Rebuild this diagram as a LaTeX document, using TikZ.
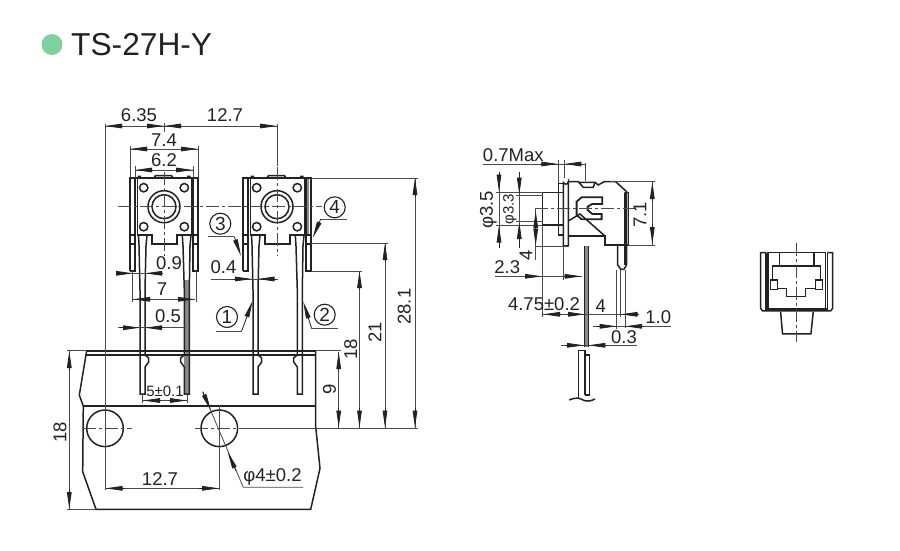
\documentclass[tikz,border=0pt]{standalone}
\usepackage{fontspec}
\setmainfont{Liberation Sans}
\usetikzlibrary{arrows.meta}
\definecolor{ink}{HTML}{222222}
\definecolor{thinline}{HTML}{4a4a4a}
\definecolor{lead}{HTML}{8a8a8a}
\definecolor{bullet}{HTML}{7FCF9F}
\tikzset{
  outl/.style={draw=ink,line width=1.5pt,line join=miter},
  heavy/.style={draw=ink,line width=1.8pt},
  thin/.style={draw=thinline,line width=0.8pt},
  ctr/.style={draw=thinline,line width=0.8pt,dash pattern=on 13pt off 3pt on 3pt off 3pt},
  tip/.style={draw=ink,line width=0.8pt,-{Stealth[length=17pt,width=4.6pt,inset=0pt]}},
  lbl/.style={inner sep=0pt,font=\fontsize{18.5}{18.5}\selectfont,text=ink},
  lblsmall/.style={inner sep=0pt,font=\fontsize{15}{15}\selectfont,text=ink},
  circ/.style={circle,draw=ink,line width=1.1pt,minimum size=21pt,inner sep=0pt,font=\fontsize{19}{19}\selectfont,text=ink},
}
\newcommand{\swtch}[1]{%
\begin{scope}[xshift=#1]
  % straps
  \draw[outl] (130,271) -- (130,178) -- (198,178) -- (198,271) -- (193,271) -- (193,178);
  \draw[outl] (135,178) -- (135,271) -- (130,271);
  \draw[outl] (130,235) -- (135,235) (130,244) -- (135,244) (193,235) -- (198,235) (193,244) -- (198,244);
  % body
  \draw[outl] (137.5,178.5) -- (137.5,235) -- (152,235) -- (152,244) -- (177,244) -- (177,235) -- (192,235) -- (192,178.5);
  \draw[outl] (154,178) -- (155.5,175.5) -- (171.5,175.5) -- (173,178);
  \fill[ink] (137.5,175.5) rectangle (141,178) (187,175.5) rectangle (190.5,178);
  % button and holes
  \draw[outl] (164,206.7) circle (16) (164,206.7) circle (12);
  \draw[outl] (143.7,187.7) circle (4.2) (184.3,187.7) circle (4.2) (143.7,226.7) circle (4.2) (184.3,226.7) circle (4.2);
  % pins
  \draw[outl] (138.5,235) -- (139,245) -- (140,290) -- (140,394) -- (145,394) -- (145,367) -- (148.7,362) -- (148.7,358) -- (145,355) -- (145,290) -- (146,246) -- (147,235);
  \draw[outl] (191,235) -- (190,246) -- (189.3,290) -- (189.3,394) -- (184.3,394) -- (184.3,367) -- (180.7,362) -- (180.7,358) -- (184.3,355) -- (184.3,290) -- (183,246) -- (182.3,235);
\end{scope}}
\begin{document}
\begin{tikzpicture}[x=1pt,y=-1pt]
\useasboundingbox (0,0) rectangle (900,550);
\fill[white] (0,0) rectangle (900,550);
% title
\fill[bullet] (52,44.5) circle (10.5);
\node[inner sep=0pt,anchor=west,font=\fontsize{31.7}{32}\selectfont,text=ink] (title) at (71,44.5) {TS-27H-Y};

% grey fills
\fill[lead] (304.5,178) rectangle (308.5,235);
\fill[lead] (184.3,280) rectangle (189.3,394);
\swtch{0pt}
\swtch{113pt}

% tape
\draw[outl] (86.7,350.7) -- (79.3,395) -- (83.3,406) -- (82.7,471.7) -- (96,509.3) -- (310.7,509.3) -- (320,468.3) -- (315.7,426.7) -- (315.7,350.7);
\draw[heavy] (86.7,350.7) -- (315.7,350.7);
\draw[outl] (85,355) -- (315.7,355);
\draw[heavy] (83.3,406) -- (315.7,406);
\draw[outl] (105,428.3) circle (18.3) (219.3,428.3) circle (18.3);

% centre lines
\draw[ctr] (118,206.7) -- (322,206.7);
\draw[ctr] (164,172) -- (164,256);
\draw[ctr] (277,167) -- (277,256);
\draw[ctr] (82.7,428.3) -- (131.7,428.3);
\draw[ctr] (195,428.3) -- (245,428.3);
\draw[thin] (245,428.3) -- (417.7,428.3);
\draw[thin] (219.3,405) -- (219.3,490);

% top dims
\draw[thin] (105,124) -- (105,490);
\draw[thin] (164,123) -- (164,132);
\draw[thin] (277,124) -- (277,166);
\draw[thin] (105,126) -- (277,126);
\draw[tip] (122,126) -- (105,126);
\draw[tip] (147,126) -- (164,126);
\draw[tip] (181,126) -- (164,126);
\draw[tip] (260,126) -- (277,126);
\node[lbl] (d635) at (139,115) {6.35};
\node[lbl] (d127a) at (225,115.5) {12.7};

\draw[thin] (130,146) -- (130,178) (198,146) -- (198,178);
\draw[thin] (130,149) -- (198,149);
\draw[tip] (147,149) -- (130,149);
\draw[tip] (181,149) -- (198,149);
\node[lbl] (d74) at (164,140.5) {7.4};
\draw[thin] (135,166) -- (135,178) (193,166) -- (193,178);
\draw[thin] (135,170) -- (193,170);
\draw[tip] (152,170) -- (135,170);
\draw[tip] (176,170) -- (193,170);
\node[lbl] (d62) at (164,160.5) {6.2};

% 0.9
\draw[thin] (118,273.3) -- (162,273.3);
\draw[tip] (117,273.3) -- (133,273.3);
\draw[tip] (162,273.3) -- (145,273.3);
\node[lbl] (d09) at (169,263) {0.9};
% 7
\draw[thin] (132.5,271) -- (132.5,302) (196,271) -- (196,302);
\draw[thin] (133,299.3) -- (195,299.3);
\draw[tip] (151,299.3) -- (133,299.3);
\draw[tip] (177,299.3) -- (195,299.3);
\node[lbl] (d7) at (162,289) {7};
% 0.5
\draw[thin] (118,327.7) -- (186,327.7);
\draw[tip] (120,327.7) -- (140,327.7);
\draw[tip] (163,327.7) -- (145,327.7);
\node[lbl] (d05) at (168,316) {0.5};
% 0.4
\draw[thin] (211,279) -- (278,279);
\draw[tip] (233,279) -- (252,279);
\draw[tip] (276,279) -- (257.5,279);
\node[lbl] (d04) at (223.5,267.5) {0.4};

% balloons
\node[circ] (c3) at (220.3,223.7) {3};
\node[circ] (c4) at (334.7,207.3) {4};
\node[circ] (c1) at (227,317) {1};
\node[circ] (c2) at (324.7,314.7) {2};
\coordinate (l3a) at (208.3,236.7); \coordinate (l3b) at (234.3,236.7); \coordinate (l3c) at (241,256);
\draw[thin] (l3a) -- (l3b); \draw[tip] (l3b) -- (l3c);
\coordinate (l4a) at (346.7,219); \coordinate (l4b) at (320.7,219); \coordinate (l4c) at (312.7,238);
\draw[thin] (l4a) -- (l4b); \draw[tip] (l4b) -- (l4c);
\coordinate (l1a) at (215.7,331); \coordinate (l1b) at (241.7,331); \coordinate (l1c) at (252.7,300.7);
\draw[thin] (l1a) -- (l1b); \draw[tip] (l1b) -- (l1c);
\coordinate (l2a) at (338.3,328.7); \coordinate (l2b) at (311.7,328.7); \coordinate (l2c) at (303.3,301.7);
\draw[thin] (l2a) -- (l2b); \draw[tip] (l2b) -- (l2c);

% 5±0.1
\draw[thin] (142.7,394) -- (142.7,403) (187,394) -- (187,403);
\draw[thin] (143,400.5) -- (187,400.5);
\draw[tip] (161,400.5) -- (143,400.5);
\draw[tip] (169,400.5) -- (187,400.5);
\node[lblsmall] (d5) at (165,391) {5±0.1};

% bottom 12.7
\draw[thin] (105,488.3) -- (219.3,488.3);
\draw[tip] (125,488.3) -- (105.5,488.3);
\draw[tip] (199,488.3) -- (219,488.3);
\node[lbl] (d127b) at (160,479) {12.7};

% phi4
\draw[thin] (202.7,391.7) -- (243.3,487.3) -- (303.3,487.3);
\draw[tip] (202.7,391.7) -- (211,410.5);
\draw[tip] (236,471) -- (227.7,452);
\node[lbl] (dphi) at (272.5,477) {φ4±0.2};

% left 18
\draw[thin] (67.3,350.7) -- (86.7,350.7) (67.3,509.3) -- (96,509.3);
\draw[thin] (69.3,351) -- (69.3,509);
\draw[tip] (69.3,371) -- (69.3,351);
\draw[tip] (69.3,489) -- (69.3,509);
\node[lbl,rotate=90] (d18l) at (60,432) {18};

% right dims
\draw[thin] (315.7,350.7) -- (341,350.7);
\draw[thin] (338.7,352) -- (338.7,428);
\draw[tip] (338.7,371) -- (338.7,352);
\draw[tip] (338.7,408) -- (338.7,427.5);
\node[lbl,rotate=90] (d9) at (329.5,389) {9};
\draw[thin] (311,271) -- (361.7,271);
\draw[thin] (359.5,271) -- (359.5,428);
\draw[tip] (359.5,290) -- (359.5,271);
\draw[tip] (359.5,408) -- (359.5,427.5);
\node[lbl,rotate=90] (d18) at (350.7,349.3) {18};
\draw[thin] (311,243) -- (387.7,243);
\draw[thin] (385,243) -- (385,428);
\draw[tip] (385,262) -- (385,243);
\draw[tip] (385,408) -- (385,427.5);
\node[lbl,rotate=90] (d21) at (375,332.7) {21};
\draw[thin] (311,178) -- (418,178);
\draw[thin] (415,178) -- (415,428);
\draw[tip] (415,197) -- (415,178);
\draw[tip] (415,408) -- (415,427.5);
\node[lbl,rotate=90] (d281) at (404.3,306.7) {28.1};

% ---- side view
\begin{scope}[x=0.3333pt,y=-0.3333pt,shift={(1410,420)}]
  \draw[outl] (218,157) -- (218,255) -- (265,255);
  \draw[outl] (218,157) -- (265,157);
  \draw[outl] (265,130) rectangle (280,157);
  \draw[outl] (265,255) rectangle (280,285);
  \draw[outl] (265,157) -- (265,255);
  \draw[outl] (280,125) -- (280,318) -- (295,318) -- (295,125) arc (0:180:7.5);
  \draw[outl] (295,125) -- (325,125) -- (340,142) -- (370,142) -- (375,127) -- (325,127);
  \draw[outl] (375,127) -- (385,135) -- (403,125) -- (437,125) -- (470,155) -- (470,375) (465,157) -- (465,375);
  \draw[outl] (465,157) -- (476,157) -- (476,315) -- (443,315) -- (405,315) -- (405,288) -- (295,288);
  \draw[outl] (295,243) -- (330,222) -- (405,288);
  \draw[outl] (443,315) -- (443,375) -- (453,388) -- (462,388) -- (470,375);
  \draw[heavy] (335,172) -- (320,185) -- (320,225) -- (335,238) -- (395,238) -- (395,222) -- (367,222) -- (353,210) -- (353,200) -- (367,192) -- (397,192) -- (397,172) -- cycle;
\end{scope}
% lead
\fill[lead] (584.3,246) rectangle (588.3,347);
\draw[outl] (584.3,246) -- (584.3,347) (588.3,246) -- (588.3,347);
\draw[outl] (578.3,398) -- (578.3,350.7) -- (585,350.7) -- (585,395);
\draw[outl] (585,355) -- (589.3,355) -- (589.3,395) -- (585,395);
\draw[outl] (569.3,400) .. controls (576,397) and (580,398) .. (583,400) .. controls (587,402) and (591,401) .. (595,399);
\draw[ctr] (535,208.3) -- (637,208.3);

\node[lbl] (d07) at (513.3,155) {0.7Max};
\draw[thin] (482.7,164) -- (585.7,164);
\draw[tip] (540,164) -- (558.3,164);
\draw[tip] (583,164) -- (564.3,164);
\draw[thin] (558.3,160) -- (558.3,183) (564.3,160) -- (564.3,178) (585.7,163) -- (585.7,181);

\draw[thin] (496,192) -- (543,192) (496,225) -- (543,225);
\draw[thin] (499,172) -- (499,248);
\draw[tip] (499,172) -- (499,191.5);
\draw[tip] (499,248) -- (499,225.5);
\node[lbl,rotate=90] (d35) at (488.3,210) {φ3.5};
\draw[thin] (516,195) -- (543,195) (516,221.7) -- (543,221.7);
\draw[thin] (519.3,172) -- (519.3,248);
\draw[tip] (519.3,172) -- (519.3,194.5);
\draw[tip] (519.3,248) -- (519.3,222);
\node[lblsmall,rotate=90] (d33) at (510,209) {φ3.3};

\draw[thin] (535,246) -- (568,246);
\draw[thin] (535.7,208.3) -- (535.7,260);
\draw[tip] (535.7,228) -- (535.7,211);
\draw[tip] (535.7,228) -- (535.7,245.5);
\node[lbl,rotate=90] (d4a) at (526,255.7) {4};

\draw[thin] (542.3,226) -- (542.3,316.7);
\draw[thin] (563.3,246) -- (563.3,280);
\draw[thin] (495,276.3) -- (581.7,276.3);
\draw[tip] (525,276.3) -- (542,276.3);
\draw[tip] (563.5,276.3) -- (581.7,276.3);
\node[lbl] (d23) at (507.3,266.7) {2.3};

\draw[thin] (616.7,270) -- (616.7,329) (620.5,270) -- (620.5,316.7) (625,270) -- (625,328);
\draw[thin] (542.3,314.3) -- (639.3,314.3);
\draw[tip] (561,314.3) -- (543,314.3);
\draw[tip] (567,314.3) -- (585,314.3);
\draw[tip] (639,314.3) -- (620.5,314.3);
\node[lbl] (d475) at (544,304.3) {4.75±0.2};
\node[lbl] (d4b) at (600.7,305.7) {4};

\draw[thin] (593.3,326.3) -- (670.7,326.3);
\draw[tip] (597,326.3) -- (616.7,326.3);
\draw[tip] (644,326.3) -- (625,326.3);
\node[lbl] (d10) at (658.3,317.3) {1.0};

\draw[thin] (561,345.3) -- (637.3,345.3);
\draw[tip] (565,345.3) -- (584,345.3);
\draw[tip] (607,345.3) -- (588.3,345.3);
\node[lbl] (d03) at (624,337.3) {0.3};

\draw[thin] (610,181) -- (655,181) (628,245) -- (655,245);
\draw[thin] (652.3,181) -- (652.3,245);
\draw[tip] (652.3,202) -- (652.3,182);
\draw[tip] (652.3,224) -- (652.3,244);
\node[lbl,rotate=90] (d71) at (640,215) {7.1};

% ---- front view
\begin{scope}[x=0.3333pt,y=-0.3333pt,shift={(2250,720)}]
  \draw[outl] (48,38) -- (32,38) -- (32,205) -- (38,213) -- (242,213) -- (248,205) -- (248,38) -- (232,38);
  \draw[outl] (48,38) -- (48,207) -- (232,207) -- (232,38);
  \draw[outl] (54,207) -- (54,38) -- (226,38) -- (226,207);
  \draw[outl] (68,120) -- (68,78) -- (212,78) -- (212,120);
  \draw[outl] (88,38) -- (88,78) (192,38) -- (192,78);
  \draw[outl] (62,120) rectangle (82,148) (197,120) rectangle (217,148);
  \draw[outl] (82,145) -- (110,145) -- (110,170) -- (167,170) -- (167,145) -- (197,145);
  \draw[outl] (92,215) -- (98,282) -- (183,282) -- (190,215);
  \draw[ctr] (140,10) -- (140,305);
\end{scope}
\end{tikzpicture}
\end{document}
